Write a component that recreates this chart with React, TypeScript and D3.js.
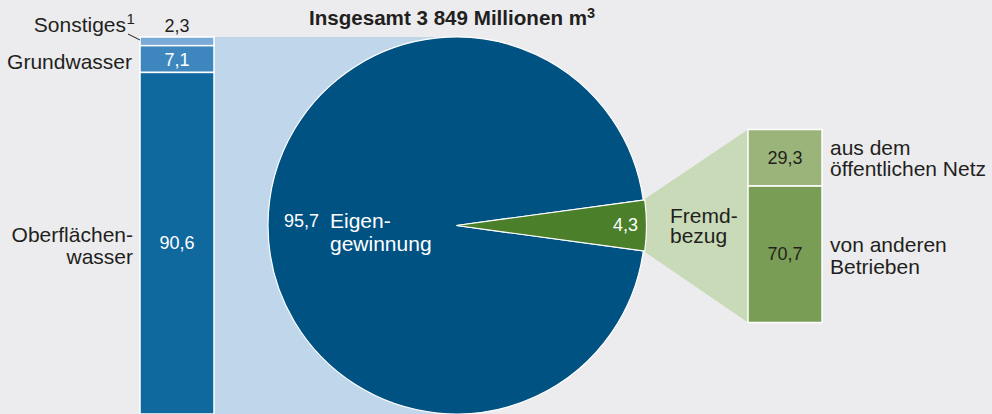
import React from "react";
import * as d3 from "d3";

const title = "Insgesamt 3 849 Millionen m";
const titleSup = "3";

const sourceNames = ["Sonstiges", "Grundwasser", "Oberflächenwasser"];
const sourceValues = [2.3, 7.1, 90.6];
const sourceLabels = ["2,3", "7,1", "90,6"];

const supplyNames = ["Eigengewinnung", "Fremdbezug"];
const supplyValues = [95.7, 4.3];
const supplyLabels = ["95,7", "4,3"];

const externalNames = ["aus dem öffentlichen Netz", "von anderen Betrieben"];
const externalValues = [29.3, 70.7];
const externalLabels = ["29,3", "70,7"];

const W = 992;
const H = 414;
const FONT = "'Liberation Sans', Arial, Helvetica, sans-serif";
const BG = "#ececee";
const TEXT = "#231f20";

const sourceColors = ["#7aabd8", "#3d87be", "#10699e"];
const supplyColors = ["#005282", "#4b7f2a"];
const externalColors = ["#9ab47a", "#7a9d56"];
const linkBlue = "#c0d6ea";
const linkGreen = "#c8dab8";

export default function App() {
  // left stacked bar
  const lbX = 140, lbW = 74;
  const yL = d3.scaleLinear().domain([0, 100]).range([37, 414]);
  const lStack: { y0: number; y1: number }[] = [];
  let acc = 0;
  sourceValues.forEach((v) => {
    lStack.push({ y0: yL(acc), y1: yL(acc + v) });
    acc += v;
  });

  // pie
  const cx = 456.5, cy = 225.5, r = 188.5;
  const half = (supplyValues[1] / d3.sum(supplyValues)) * Math.PI;
  const pie = d3
    .pie<number>()
    .sort(null)
    .value((d) => d)
    .startAngle(Math.PI / 2 + half)
    .endAngle(Math.PI / 2 + half + 2 * Math.PI);
  const arcs = pie(supplyValues);
  const arcGen = d3.arc<d3.PieArcDatum<number>>().innerRadius(0);

  // right stacked bar
  const rbX = 748, rbW = 74;
  const yR = d3.scaleLinear().domain([0, 100]).range([129.5, 322.5]);
  const rStack: { y0: number; y1: number }[] = [];
  acc = 0;
  externalValues.forEach((v) => {
    rStack.push({ y0: yR(acc), y1: yR(acc + v) });
    acc += v;
  });

  const green = arcs[1];
  const pt = (a: number, rr: number) => [cx + rr * Math.sin(a), cy - rr * Math.cos(a)];
  const p1 = pt(green.startAngle, r);
  const p2 = pt(green.endAngle, r);
  const trap = [
    [cx, cy],
    p1,
    [rbX, yR(0)],
    [rbX, yR(100)],
    p2,
  ];
  const line = d3.line();

  return (
    <svg
      width={W}
      height={H}
      style={{ position: "absolute", left: 0, top: 0, display: "block" }}
      fontFamily={FONT}
    >
      <rect x={0} y={0} width={W} height={H} fill={BG} />

      {/* light blue link */}
      <rect x={lbX + lbW} y={yL(0)} width={cx - lbX - lbW} height={yL(100) - yL(0)} fill={linkBlue} />
      {/* light green link */}
      <path d={line(trap as [number, number][]) + "Z"} fill={linkGreen} />

      {/* pie */}
      {arcs.map((a, i) => (
        <path
          key={supplyNames[i]}
          d={arcGen.outerRadius(i === 1 ? r + 1.5 : r)(a) as string}
          transform={`translate(${cx},${cy})`}
          fill={supplyColors[i]}
          stroke="#ffffff"
          strokeWidth={1.2}
        />
      ))}

      {/* left bar */}
      {lStack.map((s, i) => (
        <rect
          key={sourceNames[i]}
          x={lbX}
          y={s.y0}
          width={lbW}
          height={s.y1 - s.y0}
          fill={sourceColors[i]}
          stroke="#ffffff"
          strokeWidth={1.5}
        />
      ))}

      {/* right bar */}
      {rStack.map((s, i) => (
        <rect
          key={externalNames[i]}
          x={rbX}
          y={s.y0}
          width={rbW}
          height={s.y1 - s.y0}
          fill={externalColors[i]}
          stroke="#ffffff"
          strokeWidth={1.5}
        />
      ))}

      {/* title */}
      <text x={452} y={25} textAnchor="middle" fontWeight="bold" fontSize={20.6} fill={TEXT}>
        {title}
        <tspan fontSize={14.5} dy={-7}>{titleSup}</tspan>
      </text>

      {/* left labels */}
      <text x={126} y={31.5} textAnchor="end" fontSize={21} fill={TEXT}>
        Sonstiges
      </text>
      <text x={126.5} y={24} fontSize={15} fill={TEXT}>1</text>
      <line x1={128} y1={34} x2={140} y2={40} stroke={TEXT} strokeWidth={1} />
      <text x={lbX + lbW / 2} y={31.5} textAnchor="middle" fontSize={18} fill={TEXT}>
        {sourceLabels[0]}
      </text>
      <text x={132} y={68.5} textAnchor="end" fontSize={21} fill={TEXT}>
        Grundwasser
      </text>
      <text x={lbX + lbW / 2} y={65.5} textAnchor="middle" fontSize={18} fill="#ffffff">
        {sourceLabels[1]}
      </text>
      <text x={133} y={241.5} textAnchor="end" fontSize={21} fill={TEXT}>
        Oberflächen-
      </text>
      <text x={133} y={263.5} textAnchor="end" fontSize={21} fill={TEXT}>
        wasser
      </text>
      <text x={lbX + lbW / 2} y={249} textAnchor="middle" fontSize={18} fill="#ffffff">
        {sourceLabels[2]}
      </text>

      {/* pie labels */}
      <text x={284} y={227} fontSize={18} fill="#ffffff">
        {supplyLabels[0]}
      </text>
      <text x={330} y={228} fontSize={21} fill="#ffffff">
        Eigen-
      </text>
      <text x={330} y={251} fontSize={21} fill="#ffffff">
        gewinnung
      </text>
      <text x={638} y={231} textAnchor="end" fontSize={18} fill="#ffffff">
        {supplyLabels[1]}
      </text>
      <text x={670} y={223} fontSize={21} fill={TEXT}>
        Fremd-
      </text>
      <text x={670} y={242.5} fontSize={21} fill={TEXT}>
        bezug
      </text>

      {/* right bar labels */}
      <text x={rbX + rbW / 2} y={163.5} textAnchor="middle" fontSize={18} fill={TEXT}>
        {externalLabels[0]}
      </text>
      <text x={rbX + rbW / 2} y={259.5} textAnchor="middle" fontSize={18} fill={TEXT}>
        {externalLabels[1]}
      </text>
      <text x={830} y={154.5} fontSize={21} fill={TEXT}>
        aus dem
      </text>
      <text x={830} y={176} fontSize={21} fill={TEXT}>
        öffentlichen Netz
      </text>
      <text x={830} y={252} fontSize={21} fill={TEXT}>
        von anderen
      </text>
      <text x={830} y={274} fontSize={21} fill={TEXT}>
        Betrieben
      </text>
    </svg>
  );
}
